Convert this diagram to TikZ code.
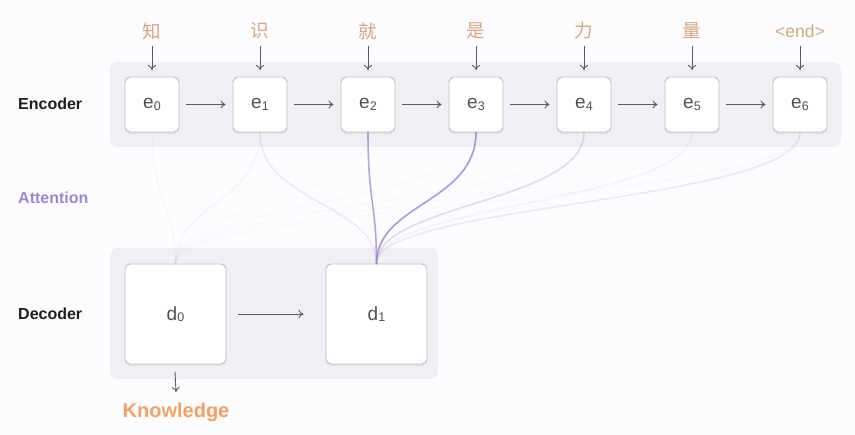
\documentclass[tikz,border=0pt]{standalone}
\usepackage{fontspec}
\setmainfont{Liberation Sans}
\newfontfamily\cjk{Noto Sans CJK SC}
\usetikzlibrary{arrows.meta,calc}
\definecolor{bgc}{RGB}{252,251,253}
\definecolor{bandc}{RGB}{241,239,245}
\definecolor{boxline}{RGB}{190,188,194}
\definecolor{txtgray}{RGB}{80,80,85}
\definecolor{tokc}{RGB}{214,168,124}
\definecolor{attc}{RGB}{160,134,206}
\definecolor{knowc}{RGB}{244,160,100}
\definecolor{arrc}{RGB}{90,90,95}
\tikzset{
  band/.style={fill=bandc, rounded corners=8pt, draw=none},
  cell/.style={draw=boxline, line width=0.9pt, fill=white, rounded corners=5pt,
    minimum width=54pt, minimum height=55pt, inner sep=0pt,
    font=\fontsize{19}{20}\selectfont, text=txtgray},
  bigcell/.style={cell, minimum width=101pt, minimum height=100pt},
  shadowbox/.style={fill=black!10, rounded corners=5pt, draw=none},
  tok/.style={font=\cjk\fontsize{18.5}{20}\selectfont, text=tokc, inner sep=0pt},
  lab/.style={font=\bfseries\fontsize{16}{18}\selectfont, anchor=west, inner sep=0pt},
  flow/.style={draw=arrc, line width=0.9pt, -{To[length=5pt,width=8pt]}},
  att/.style={draw=attc, line width=1.6pt, line cap=round},
}
\newcommand{\sbs}[1]{\raisebox{-1.5pt}{\fontsize{12.5}{12}\selectfont #1}}
\begin{document}
\begin{tikzpicture}[x=1pt,y=-1pt]
\useasboundingbox (0,0) rectangle (855,435);
\fill[bgc] (0,0) rectangle (855,435);
% bands
\path[band] (110,62) rectangle (841,147);
\path[band] (110,248) rectangle (438,379);
% labels
\node[lab, text=black!88] (lenc) at (18,104) {Encoder};
\node[lab, text=attc] (latt) at (18,198) {Attention};
\node[lab, text=black!88] (ldec) at (18,314) {Decoder};
% encoder cells
\foreach \i/\t in {0/知,1/识,2/就,3/是,4/力,5/量} {
  \path[shadowbox] ({152+108*\i-27},{79}) rectangle ({152+108*\i+27},{134});
  \node[cell] (e\i) at ({152+108*\i},104.5) {e\sbs{\i}};
  \node[tok] (t\i) at ({152+108*\i},31) {\t};
  \coordinate (tt\i) at ({152+108*\i},46);
  \draw[flow] (tt\i) -- (e\i.north |- 0,70);
}
\path[shadowbox] (773,79) rectangle (827,134);
\node[cell] (e6) at (800,104.5) {e\sbs{6}};
\node[tok, font=\fontsize{17.5}{18}\selectfont] (t6) at (800,31) {<end>};
\coordinate (tt6) at (800,46);
\draw[flow] (tt6) -- (e6.north |- 0,70);
% horizontal encoder arrows
\foreach \i [evaluate=\i as \j using int(\i+1)] in {0,...,5} {
  \draw[flow] ([xshift=7pt]e\i.east) -- ([xshift=-7pt]e\j.west);
}
% decoder cells
\path[shadowbox] (125,266) rectangle (226,366);
\path[shadowbox] (326,266) rectangle (427,366);
\node[bigcell] (d0) at (175.5,314) {d\sbs{0}};
\node[bigcell] (d1) at (376.5,314) {d\sbs{1}};
\draw[flow] ([xshift=12pt]d0.east) -- ([xshift=-22pt]d1.west);
\node[font=\bfseries\fontsize{20}{22}\selectfont, text=knowc, inner sep=0pt] (know) at (176,412) {Knowledge};
\draw[flow] (175,372) -- (know.north |- 0,392);
% attention curves to d0 (very faint)
\foreach \i/\o in {0/0.06,1/0.07,2/0.03,3/0.03,4/0.03,5/0.025,6/0.03} {
  \draw[att, line width=1.4pt, draw opacity=\o] (e\i.south) .. controls ($(e\i.south)+(0,70)$) and ($(d0.north)+(0,-60)$) .. (d0.north);
}
% attention curves to d1
\foreach \i/\o in {1/0.15,4/0.28,5/0.08,6/0.16,3/0.85,2/0.75} {
  \draw[att, draw opacity=\o] (e\i.south) .. controls ($(e\i.south)+(0,70)$) and ($(d1.north)+(0,-60)$) .. (d1.north);
}
\end{tikzpicture}
\end{document}
